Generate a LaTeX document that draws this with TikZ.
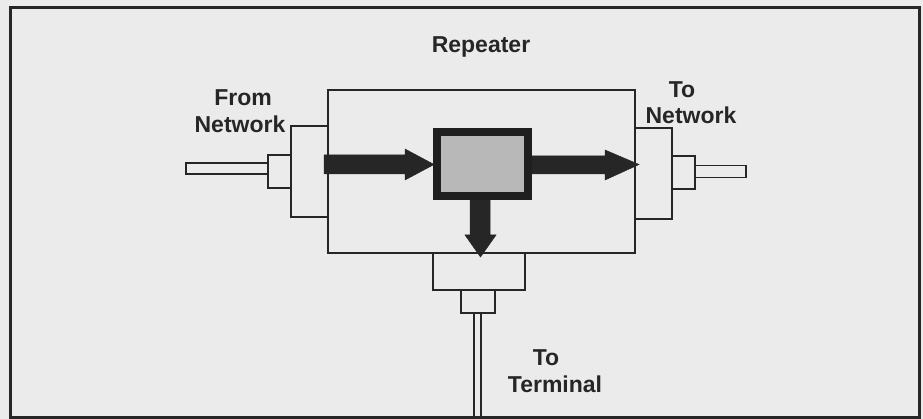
\documentclass[tikz,border=0pt]{standalone}
\usepackage{fontspec}
\setmainfont{Liberation Sans}
\begin{document}
\begin{tikzpicture}[x=1pt,y=-1pt,
  box/.style={draw=black!85, line width=1.2pt, inner sep=0pt, outer sep=0pt},
  lbl/.style={font=\bfseries\fontsize{23}{27}\selectfont, text=black!85, inner sep=0pt, anchor=base},
  fatarrow/.style={fill=black!85, draw=black!85, line width=0.5pt, line join=miter}]
\fill[black!8] (0,0) rectangle (923,419);
\useasboundingbox (0,0) rectangle (923,419);
\draw[black!85, line width=3pt] (10,8) rectangle (919,417);
% main repeater box
\node[box, minimum width=307pt, minimum height=163pt] (main) at (481.5,171.5) {};
% left connector
\node[box, minimum width=37pt, minimum height=91pt] (lbig) at (309.5,171.5) {};
\node[box, minimum width=23pt, minimum height=33pt] (lsmall) at (279.5,171.5) {};
\node[box, minimum width=82pt, minimum height=11pt] (lrod) at (227,168.5) {};
% right connector
\node[box, minimum width=37pt, minimum height=91pt] (rbig) at (653.5,173.5) {};
\node[box, minimum width=23pt, minimum height=33pt] (rsmall) at (683.5,172.5) {};
\node[box, minimum width=51pt, minimum height=12pt] (rrod) at (720.5,171.5) {};
% bottom connector
\node[box, minimum width=92pt, minimum height=37pt] (bbig) at (479,271.5) {};
\node[box, minimum width=34pt, minimum height=23pt] (bsmall) at (478,301.5) {};
\node[box, minimum width=7pt, minimum height=104pt] (brod) at (477.5,365) {};
% central processing box
\node[draw=black!88, line width=8pt, fill=black!28, minimum width=91pt, minimum height=64pt, inner sep=0pt] (core) at (482.5,164) {};
% arrows
\draw[fatarrow] (324,155) -- (405,155) -- (405,149) -- (434,164.5) -- (405,180) -- (405,174) -- (324,174) -- cycle;
\draw[fatarrow] (532,156) -- (605,156) -- (605,150) -- (639,164.5) -- (605,180) -- (605,174) -- (532,174) -- cycle;
\draw[fatarrow] (470,200) -- (490,200) -- (490,235) -- (496,235) -- (480.5,257) -- (465,235) -- (470,235) -- cycle;
% labels
\node[lbl] (rep) at (481,53) {Repeater};
\node[lbl] (from1) at (243,106) {From};
\node[lbl] (from2) at (240,133) {Network};
\node[lbl] (to1) at (682,98) {To};
\node[lbl] (to2) at (691,124) {Network};
\node[lbl] (tt1) at (546,365) {To};
\node[lbl] (tt2) at (555,392) {Terminal};
\end{tikzpicture}
\end{document}
